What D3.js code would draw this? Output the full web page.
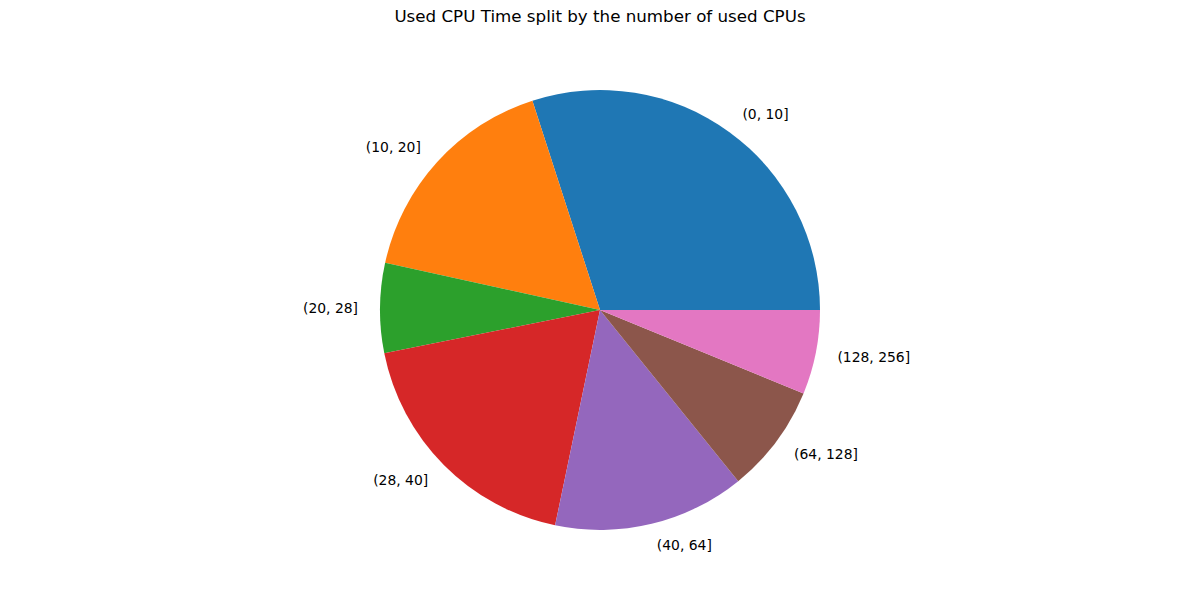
<!DOCTYPE html>
<html>
<head>
<meta charset="utf-8">
<script src="https://cdn.jsdelivr.net/npm/d3@7"></script>
<style>
  body { margin: 0; background: #fff; }
  text { font-family: "DejaVu Sans", sans-serif; }
</style>
</head>
<body>
<div id="chart"></div>
<script>
const categories = ["(0, 10]", "(10, 20]", "(20, 28]", "(28, 40]", "(40, 64]", "(64, 128]", "(128, 256]"];
const cpuTime = [30.0, 16.6, 6.6, 18.6, 14.1, 8.0, 6.2];
const colors = ["#1f77b4", "#ff7f0e", "#2ca02c", "#d62728", "#9467bd", "#8c564b", "#e377c2"];

const width = 1200, height = 600;
const cx = 600, cy = 310, radius = 220;

const svg = d3.select("#chart")
  .append("svg")
  .attr("width", width)
  .attr("height", height);

// Title
svg.append("text")
  .attr("x", width / 2)
  .attr("y", 22)
  .attr("text-anchor", "middle")
  .style("font-size", "16.7px")
  .text("Used CPU Time split by the number of used CPUs");

// matplotlib style: start at 3 o'clock, counterclockwise
const pie = d3.pie()
  .sort(null)
  .value(d => d)
  .startAngle(Math.PI / 2)
  .endAngle(Math.PI / 2 - 2 * Math.PI);

const arc = d3.arc().innerRadius(0).outerRadius(radius);

const g = svg.append("g").attr("transform", `translate(${cx},${cy})`);
const arcs = pie(cpuTime);

g.selectAll("path")
  .data(arcs)
  .enter()
  .append("path")
  .attr("d", arc)
  .style("fill", (d, i) => colors[i]);

// Labels at 1.1 * radius
g.selectAll("text.label")
  .data(arcs)
  .enter()
  .append("text")
  .attr("class", "label")
  .each(function (d, i) {
    const a = (d.startAngle + d.endAngle) / 2;
    const x = Math.sin(a) * radius * 1.1;
    const y = -Math.cos(a) * radius * 1.1;
    d3.select(this)
      .attr("x", x)
      .attr("y", y)
      .attr("dy", "0.35em")
      .attr("text-anchor", x > 0 ? "start" : "end")
      .style("font-size", "13.9px")
      .text(categories[i]);
  });
</script>
</body>
</html>
